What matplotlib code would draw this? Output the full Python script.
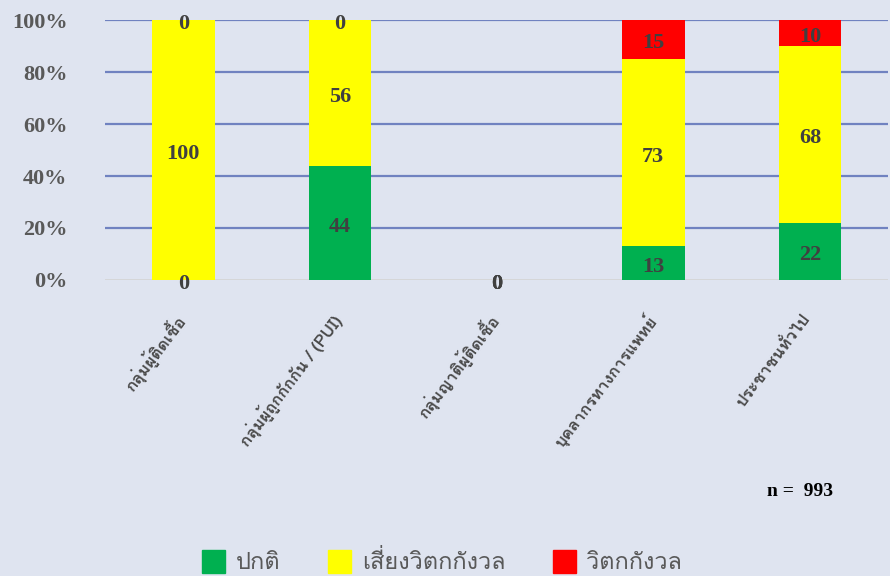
import numpy as np
import matplotlib
matplotlib.use("Agg")
import matplotlib.pyplot as plt
import matplotlib.transforms as mtransforms
from matplotlib import font_manager
from matplotlib.ft2font import FT2Font
from matplotlib.patches import Patch

# --- data ---
groups = ["กลุ่มผู้ติดเชื้อ", "กลุ่มผู้ถูกกักกัน / (PUI)", "กลุ่มญาติผู้ติดเชื้อ",
          "บุคลากรทางการแพทย์", "ประชาชนทั่วไป"]
normal = [0, 44, 0, 13, 22]
at_risk = [100, 56, 0, 73, 68]
anxious = [0, 0, 0, 15, 10]
series_names = ["ปกติ", "เสี่ยงวิตกกังวล", "วิตกกังวล"]
series_colors = ["#00b050", "#ffff00", "#ff0000"]
n_total = 993

# --- find a font that has Thai glyphs ---
thai_font = "DejaVu Sans"
for f in font_manager.fontManager.ttflist:
    try:
        if 0x0E01 in FT2Font(f.fname).get_charmap():
            thai_font = f.name
            break
    except Exception:
        pass

bg = "#dfe4f0"
fig = plt.figure(figsize=(8.9, 5.76), dpi=100, facecolor=bg)
ax = fig.add_axes([0.118, 0.514, 0.88, 0.451], facecolor=bg)

vals = np.array([normal, at_risk, anxious], dtype=float)
tot = vals.sum(axis=0)
pct = np.divide(vals, tot, out=np.zeros_like(vals), where=tot > 0) * 100

x = np.arange(len(groups))
bottom = np.zeros(len(groups))
for i in range(3):
    ax.bar(x, pct[i], 0.4, bottom=bottom, color=series_colors[i], zorder=3)
    for j in range(len(groups)):
        ax.text(x[j], bottom[j] + pct[i][j] / 2 - 1.5, f"{int(vals[i][j])}",
                ha="center", va="center", fontsize=16, fontweight="bold",
                family="Liberation Serif", color="#404040", zorder=4, clip_on=False)
    bottom += pct[i]

ax.set_xlim(-0.5, len(groups) - 0.5)
ax.set_ylim(0, 100)
ax.set_yticks(range(0, 101, 20))
ax.set_yticklabels([f"{v}%" for v in range(0, 101, 20)], family="Liberation Serif",
                   fontweight="bold", fontsize=16, color="#595959")
ax.tick_params(axis="y", length=0, pad=27)
for v in range(20, 101, 20):
    ax.axhline(v, color="#7082c0", lw=1.6, zorder=1)
ax.axhline(0, color="#d4d4d4", lw=1.2, zorder=1)
for s in ax.spines.values():
    s.set_visible(False)

ax.set_xticks(x)
ax.set_xticklabels(groups, rotation=53, ha="right", va="top", rotation_mode="anchor",
                   family=[thai_font, "DejaVu Sans"], fontsize=12, fontweight="bold",
                   color="#4a4a4a")
ax.tick_params(axis="x", length=0, pad=22)
shift = mtransforms.ScaledTranslation(-7 / 72, 0, fig.dpi_scale_trans)
for lbl in ax.get_xticklabels():
    lbl.set_transform(lbl.get_transform() + shift)

fig.text(800 / 890, 1 - 492 / 576, f"n =  {n_total}", ha="center", va="center",
         family="Liberation Serif", fontweight="bold", fontsize=14, color="black")

handles = [Patch(color=c) for c in series_colors]
leg = fig.legend(handles, series_names, loc="center", bbox_to_anchor=(0.497, 1 - 562 / 576),
                 ncol=3, frameon=False, handlelength=1.0, handleheight=1.15,
                 handletextpad=0.45, columnspacing=2.0,
                 prop={"family": [thai_font, "DejaVu Sans"], "size": 17})
for t in leg.get_texts():
    t.set_color("#595959")

fig.savefig("out.png", dpi=100, facecolor=bg)
